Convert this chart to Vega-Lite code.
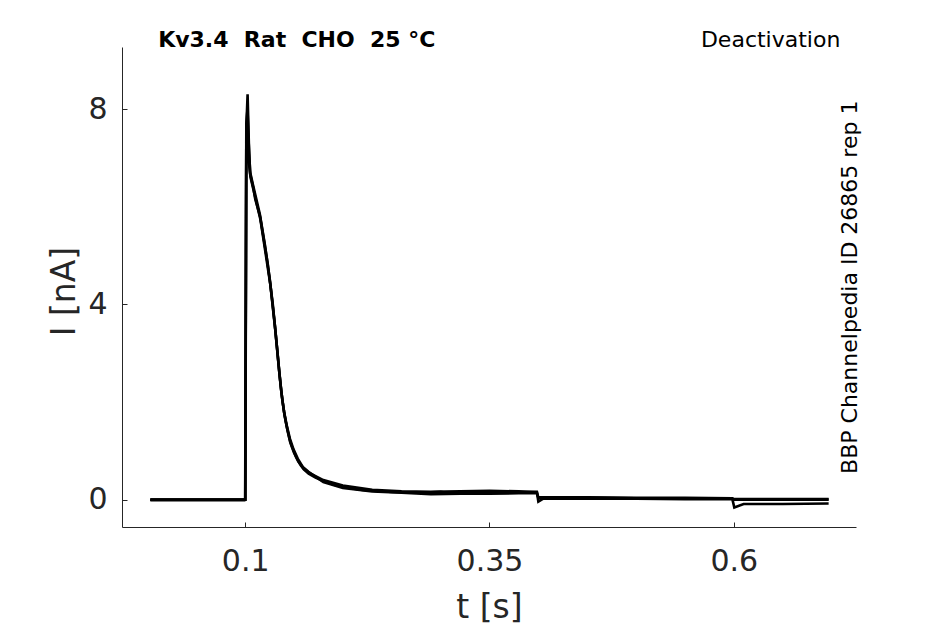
{
  "$schema": "https://vega.github.io/schema/vega-lite/v6.json",
  "width": 734,
  "height": 480,
  "autosize": {"type": "none"},
  "padding": {"left": 122, "top": 47, "right": 89, "bottom": 97},
  "background": "white",
  "config": {
    "view": {"stroke": null},
    "font": "DejaVu Sans",
    "axis": {
      "grid": false,
      "domainColor": "#262626",
      "domainWidth": 1,
      "tickColor": "#262626",
      "tickWidth": 1,
      "tickSize": -5,
      "labelColor": "#262626",
      "titleColor": "#262626",
      "labelFont": "DejaVu Sans",
      "titleFont": "DejaVu Sans",
      "labelFontSize": 30,
      "titleFontSize": 33,
      "titleFontWeight": "normal"
    }
  },
  "datasets": {
    "traces": [
      {"t": 0.003, "I": 0.0, "trace": "a"},
      {"t": 0.0995, "I": 0.0, "trace": "a"},
      {"t": 0.1002, "I": 0.0, "trace": "a"},
      {"t": 0.1012, "I": 7.6, "trace": "a"},
      {"t": 0.1025, "I": 8.3, "trace": "a"},
      {"t": 0.1038, "I": 7.3, "trace": "a"},
      {"t": 0.1051, "I": 6.68, "trace": "a"},
      {"t": 0.1082, "I": 6.4, "trace": "a"},
      {"t": 0.1104, "I": 6.15, "trace": "a"},
      {"t": 0.1153, "I": 5.8, "trace": "a"},
      {"t": 0.1204, "I": 5.17, "trace": "a"},
      {"t": 0.123, "I": 4.85, "trace": "a"},
      {"t": 0.1255, "I": 4.45, "trace": "a"},
      {"t": 0.1283, "I": 4.0, "trace": "a"},
      {"t": 0.1305, "I": 3.55, "trace": "a"},
      {"t": 0.1327, "I": 3.1, "trace": "a"},
      {"t": 0.135, "I": 2.6, "trace": "a"},
      {"t": 0.1365, "I": 2.3, "trace": "a"},
      {"t": 0.1385, "I": 1.98, "trace": "a"},
      {"t": 0.14, "I": 1.78, "trace": "a"},
      {"t": 0.1415, "I": 1.6, "trace": "a"},
      {"t": 0.143, "I": 1.45, "trace": "a"},
      {"t": 0.1445, "I": 1.32, "trace": "a"},
      {"t": 0.146, "I": 1.2, "trace": "a"},
      {"t": 0.148, "I": 1.08, "trace": "a"},
      {"t": 0.15, "I": 0.98, "trace": "a"},
      {"t": 0.152, "I": 0.88, "trace": "a"},
      {"t": 0.154, "I": 0.8, "trace": "a"},
      {"t": 0.157, "I": 0.7, "trace": "a"},
      {"t": 0.16, "I": 0.62, "trace": "a"},
      {"t": 0.165, "I": 0.53, "trace": "a"},
      {"t": 0.172, "I": 0.45, "trace": "a"},
      {"t": 0.18, "I": 0.38, "trace": "a"},
      {"t": 0.19, "I": 0.31, "trace": "a"},
      {"t": 0.2, "I": 0.26, "trace": "a"},
      {"t": 0.22, "I": 0.2, "trace": "a"},
      {"t": 0.25, "I": 0.16, "trace": "a"},
      {"t": 0.28, "I": 0.14, "trace": "a"},
      {"t": 0.3, "I": 0.16, "trace": "a"},
      {"t": 0.31, "I": 0.13, "trace": "a"},
      {"t": 0.34, "I": 0.15, "trace": "a"},
      {"t": 0.37, "I": 0.15, "trace": "a"},
      {"t": 0.3985, "I": 0.16, "trace": "a"},
      {"t": 0.4, "I": 0.03, "trace": "a"},
      {"t": 0.45, "I": 0.04, "trace": "a"},
      {"t": 0.5, "I": 0.03, "trace": "a"},
      {"t": 0.55, "I": 0.03, "trace": "a"},
      {"t": 0.5985, "I": 0.02, "trace": "a"},
      {"t": 0.6, "I": 0.0, "trace": "a"},
      {"t": 0.697, "I": 0.0, "trace": "a"},

      {"t": 0.003, "I": -0.01, "trace": "b"},
      {"t": 0.0995, "I": -0.01, "trace": "b"},
      {"t": 0.1, "I": 0.0, "trace": "b"},
      {"t": 0.1012, "I": 7.4, "trace": "b"},
      {"t": 0.1022, "I": 7.5, "trace": "b"},
      {"t": 0.1038, "I": 6.9, "trace": "b"},
      {"t": 0.1055, "I": 6.6, "trace": "b"},
      {"t": 0.1085, "I": 6.35, "trace": "b"},
      {"t": 0.1155, "I": 5.75, "trace": "b"},
      {"t": 0.1205, "I": 5.1, "trace": "b"},
      {"t": 0.1258, "I": 4.4, "trace": "b"},
      {"t": 0.1307, "I": 3.5, "trace": "b"},
      {"t": 0.1352, "I": 2.55, "trace": "b"},
      {"t": 0.1378, "I": 2.08, "trace": "b"},
      {"t": 0.1402, "I": 1.74, "trace": "b"},
      {"t": 0.1432, "I": 1.43, "trace": "b"},
      {"t": 0.1462, "I": 1.17, "trace": "b"},
      {"t": 0.15, "I": 0.96, "trace": "b"},
      {"t": 0.1545, "I": 0.78, "trace": "b"},
      {"t": 0.16, "I": 0.63, "trace": "b"},
      {"t": 0.1655, "I": 0.55, "trace": "b"},
      {"t": 0.18, "I": 0.4, "trace": "b"},
      {"t": 0.2, "I": 0.29, "trace": "b"},
      {"t": 0.23, "I": 0.2, "trace": "b"},
      {"t": 0.26, "I": 0.17, "trace": "b"},
      {"t": 0.29, "I": 0.16, "trace": "b"},
      {"t": 0.32, "I": 0.17, "trace": "b"},
      {"t": 0.35, "I": 0.18, "trace": "b"},
      {"t": 0.38, "I": 0.17, "trace": "b"},
      {"t": 0.3985, "I": 0.15, "trace": "b"},
      {"t": 0.4, "I": -0.04, "trace": "b"},
      {"t": 0.405, "I": 0.02, "trace": "b"},
      {"t": 0.45, "I": 0.02, "trace": "b"},
      {"t": 0.5, "I": 0.02, "trace": "b"},
      {"t": 0.55, "I": 0.01, "trace": "b"},
      {"t": 0.5985, "I": 0.01, "trace": "b"},
      {"t": 0.6005, "I": -0.16, "trace": "b"},
      {"t": 0.61, "I": -0.09, "trace": "b"},
      {"t": 0.65, "I": -0.09, "trace": "b"},
      {"t": 0.697, "I": -0.08, "trace": "b"},

      {"t": 0.003, "I": 0.0, "trace": "c"},
      {"t": 0.0995, "I": 0.0, "trace": "c"},
      {"t": 0.1001, "I": 0.0, "trace": "c"},
      {"t": 0.1012, "I": 7.7, "trace": "c"},
      {"t": 0.1024, "I": 8.0, "trace": "c"},
      {"t": 0.104, "I": 7.1, "trace": "c"},
      {"t": 0.1052, "I": 6.7, "trace": "c"},
      {"t": 0.108, "I": 6.45, "trace": "c"},
      {"t": 0.115, "I": 5.85, "trace": "c"},
      {"t": 0.1202, "I": 5.22, "trace": "c"},
      {"t": 0.1253, "I": 4.5, "trace": "c"},
      {"t": 0.1303, "I": 3.6, "trace": "c"},
      {"t": 0.1348, "I": 2.65, "trace": "c"},
      {"t": 0.1372, "I": 2.18, "trace": "c"},
      {"t": 0.1398, "I": 1.8, "trace": "c"},
      {"t": 0.1428, "I": 1.5, "trace": "c"},
      {"t": 0.1458, "I": 1.25, "trace": "c"},
      {"t": 0.1495, "I": 1.03, "trace": "c"},
      {"t": 0.1538, "I": 0.84, "trace": "c"},
      {"t": 0.159, "I": 0.67, "trace": "c"},
      {"t": 0.1648, "I": 0.57, "trace": "c"},
      {"t": 0.18, "I": 0.36, "trace": "c"},
      {"t": 0.2, "I": 0.24, "trace": "c"},
      {"t": 0.23, "I": 0.17, "trace": "c"},
      {"t": 0.26, "I": 0.14, "trace": "c"},
      {"t": 0.29, "I": 0.11, "trace": "c"},
      {"t": 0.32, "I": 0.12, "trace": "c"},
      {"t": 0.35, "I": 0.12, "trace": "c"},
      {"t": 0.38, "I": 0.13, "trace": "c"},
      {"t": 0.3985, "I": 0.13, "trace": "c"},
      {"t": 0.4, "I": 0.05, "trace": "c"},
      {"t": 0.45, "I": 0.05, "trace": "c"},
      {"t": 0.5, "I": 0.04, "trace": "c"},
      {"t": 0.55, "I": 0.04, "trace": "c"},
      {"t": 0.5985, "I": 0.03, "trace": "c"},
      {"t": 0.6, "I": 0.01, "trace": "c"},
      {"t": 0.697, "I": 0.01, "trace": "c"}
    ]
  },
  "layer": [
    {
      "data": {"name": "traces"},
      "mark": {"type": "line", "color": "black", "strokeWidth": 2.6, "clip": true},
      "encoding": {
        "x": {
          "field": "t", "type": "quantitative",
          "scale": {"domain": [-0.026, 0.725], "nice": false, "zero": false},
          "axis": {"values": [0.1, 0.35, 0.6], "format": "~g", "title": "t [s]", "labelPadding": 24, "titleY": 90, "titleBaseline": "alphabetic"}
        },
        "y": {
          "field": "I", "type": "quantitative",
          "scale": {"domain": [-0.56, 9.27], "nice": false, "zero": false},
          "axis": {"values": [0, 4, 8], "title": "I [nA]", "labelPadding": 20, "titleX": -48, "titleY": 244, "titleBaseline": "alphabetic"}
        },
        "detail": {"field": "trace"},
        "order": {"field": "t", "type": "quantitative"}
      }
    },
    {
      "data": {"values": [{"t": 0.011, "I": 9.27, "label": "Kv3.4\u00a0 Rat\u00a0 CHO\u00a0 25 °C"}]},
      "mark": {"type": "text", "align": "left", "baseline": "alphabetic", "fontSize": 22, "fontWeight": "bold", "font": "DejaVu Sans", "color": "black"},
      "encoding": {
        "x": {"field": "t", "type": "quantitative"},
        "y": {"field": "I", "type": "quantitative"},
        "text": {"field": "label"}
      }
    },
    {
      "data": {"values": [{"t": 0.709, "I": 9.27, "label": "Deactivation"}]},
      "mark": {"type": "text", "align": "right", "baseline": "alphabetic", "fontSize": 22, "font": "DejaVu Sans", "color": "black"},
      "encoding": {
        "x": {"field": "t", "type": "quantitative"},
        "y": {"field": "I", "type": "quantitative"},
        "text": {"field": "label"}
      }
    },
    {
      "data": {"values": [{"t": 0.719, "I": 4.35, "label": "BBP Channelpedia ID 26865 rep 1"}]},
      "mark": {"type": "text", "align": "center", "baseline": "middle", "angle": 270, "fontSize": 22, "font": "DejaVu Sans", "color": "black"},
      "encoding": {
        "x": {"field": "t", "type": "quantitative"},
        "y": {"field": "I", "type": "quantitative"},
        "text": {"field": "label"}
      }
    }
  ]
}
